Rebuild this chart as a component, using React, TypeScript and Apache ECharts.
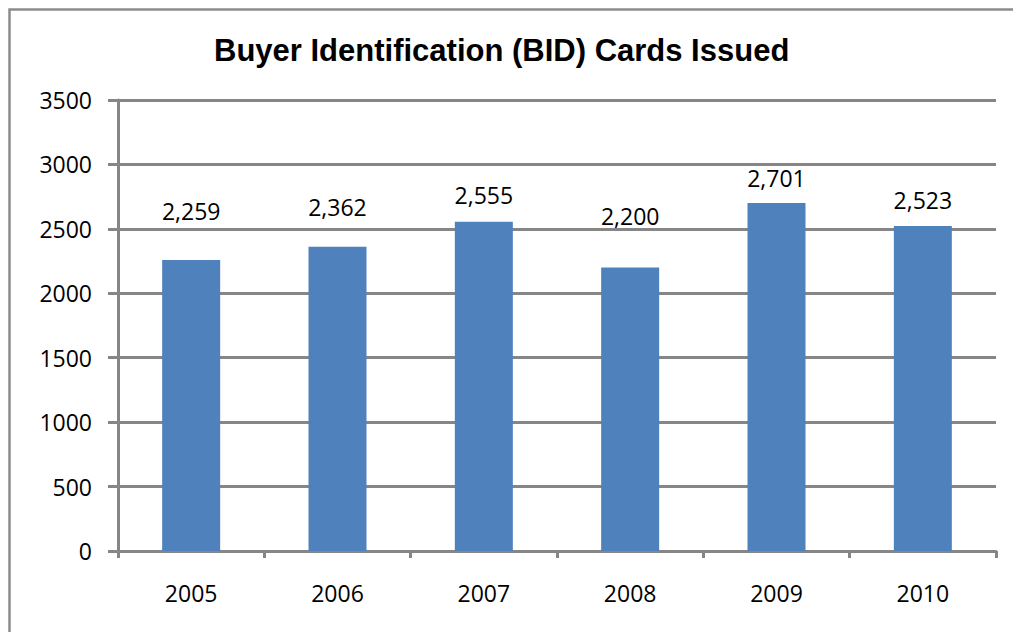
import React, { useEffect, useRef } from "react";
import * as echarts from "echarts";

const titleText = "Buyer Identification (BID) Cards Issued";
const years = ["2005", "2006", "2007", "2008", "2009", "2010"];
const cardsIssued = [2259, 2362, 2555, 2200, 2701, 2523];
const yTicks = { min: 0, max: 3500, interval: 500 };
// label gap above each bar (style only)
const labelGaps = [37, 28.5, 15.5, 40.5, 13.5, 14.5];

const FONT = "'Open Sans', 'Noto Sans', sans-serif";
const GRAY = "#868686";

export default function App() {
  const ref = useRef<HTMLDivElement>(null);
  useEffect(() => {
    if (!ref.current) return;
    const chart = echarts.init(ref.current, null, { renderer: "svg" });
    chart.setOption({
      animation: false,
      backgroundColor: "#ffffff",
      title: {
        text: titleText,
        left: 209,
        top: 30,
        textStyle: {
          fontFamily: "'Liberation Sans', Arial, sans-serif",
          fontWeight: "bold",
          fontSize: 31,
          color: "#000",
        },
      },
      grid: { left: 118, right: 17, top: 100, bottom: 81 },
      xAxis: {
        type: "category",
        data: years,
        axisLine: { show: true, lineStyle: { color: GRAY, width: 3 } },
        axisTick: { show: true, length: 7, lineStyle: { color: GRAY, width: 3 } },
        axisLabel: { margin: 30, fontSize: 23, fontFamily: FONT, color: "#000" },
        splitLine: { show: false },
      },
      yAxis: {
        type: "value",
        min: yTicks.min,
        max: yTicks.max,
        interval: yTicks.interval,
        axisLine: { show: true, lineStyle: { color: GRAY, width: 3 } },
        axisTick: { show: true, length: 10, lineStyle: { color: GRAY, width: 3 } },
        axisLabel: {
          margin: 26,
          fontSize: 23,
          fontFamily: FONT,
          color: "#000",
          formatter: (v: number) => String(v),
        },
        splitLine: { show: true, lineStyle: { color: GRAY, width: 3 } },
      },
      series: [
        {
          type: "bar",
          barWidth: 58,
          itemStyle: { color: "#4F81BD" },
          data: cardsIssued.map((v, i) => ({
            value: v,
            label: { distance: labelGaps[i] },
          })),
          label: {
            show: true,
            position: "top",
            fontSize: 23,
            fontFamily: FONT,
            color: "#000",
            formatter: (p: any) => Number(p.value).toLocaleString("en-US"),
          },
        },
      ],
      graphic: [
        {
          type: "polyline",
          shape: { points: [[9.5, 632], [9.5, 9.5], [1013, 9.5]] },
          style: { stroke: "#8c8c8c", lineWidth: 2.5, fill: "none" },
          silent: true,
        },
      ],
    });
    return () => chart.dispose();
  }, []);
  return (
    <div
      ref={ref}
      style={{ position: "absolute", left: 0, top: 0, width: 1013, height: 632 }}
    />
  );
}
